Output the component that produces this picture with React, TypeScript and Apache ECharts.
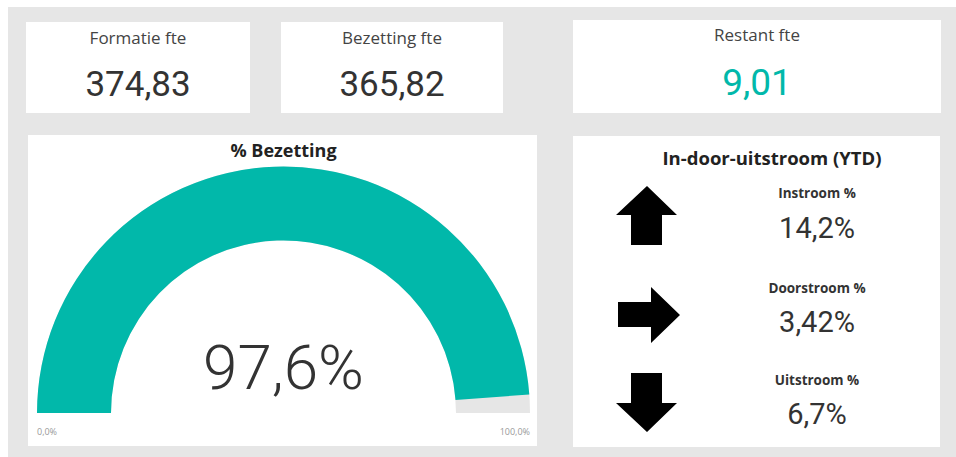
import React, { useEffect, useRef } from "react";
import * as echarts from "echarts";

const kpiTitles = ["Formatie fte", "Bezetting fte", "Restant fte"];
const kpiValues = [374.83, 365.82, 9.01];
const kpiDecimals = [2, 2, 2];

const gaugeTitle = "% Bezetting";
const gaugeValue = 97.6;
const gaugeMin = 0;
const gaugeMax = 100;

const flowTitle = "In-door-uitstroom (YTD)";
const flowLabels = ["Instroom %", "Doorstroom %", "Uitstroom %"];
const flowValues = [14.2, 3.42, 6.7];
const flowDecimals = [1, 2, 1];

const TEAL = "#01B8AA";
const GREY = "#e6e6e6";
const TITLE_FONT = "'Open Sans', 'Noto Sans', sans-serif";
const NUM_FONT = "Roboto, 'Noto Sans', sans-serif";

const nl = (v: number, d: number) => v.toFixed(d).replace(".", ",");

export default function App() {
  const ref = useRef<HTMLDivElement>(null);
  useEffect(() => {
    if (!ref.current) return;
    const chart = echarts.init(ref.current, undefined, { renderer: "svg" });

    const kpiBoxes = [
      { x: 26, y: 22, w: 224, h: 91, ty: 37, vy: 84.5 },
      { x: 281, y: 22, w: 222, h: 91, ty: 37, vy: 84.5 },
      { x: 573, y: 20, w: 368, h: 93, ty: 34, vy: 82.5 },
    ];
    const flowRows = [
      { ly: 193, vy: 227.5 },
      { ly: 288, vy: 322 },
      { ly: 379.5, vy: 414 },
    ];
    const flowCx = 817;

    const graphics: any[] = [
      { type: "rect", z: 0, shape: { x: 8, y: 7, width: 948, height: 450 }, style: { fill: GREY } },
      ...kpiBoxes.map((b) => ({
        type: "rect", z: 0, shape: { x: b.x, y: b.y, width: b.w, height: b.h }, style: { fill: "#fff" },
      })),
      { type: "rect", z: 0, shape: { x: 28, y: 135, width: 509, height: 311 }, style: { fill: "#fff" } },
      { type: "rect", z: 0, shape: { x: 573, y: 136, width: 367, height: 311 }, style: { fill: "#fff" } },
      ...kpiBoxes.flatMap((b, i) => [
        {
          type: "text", z: 10, x: b.x + b.w / 2, y: b.ty,
          style: { text: kpiTitles[i], fill: "#444", font: `400 17px ${TITLE_FONT}`, textAlign: "center", textVerticalAlign: "middle" },
        },
        {
          type: "text", z: 10, x: b.x + b.w / 2, y: b.vy,
          style: { text: nl(kpiValues[i], kpiDecimals[i]), fill: i === 2 ? TEAL : "#333", font: `400 ${i === 2 ? 37 : 35}px ${NUM_FONT}`, textAlign: "center", textVerticalAlign: "middle" },
        },
      ]),
      {
        type: "text", z: 10, x: 283.5, y: 150,
        style: { text: gaugeTitle, fill: "#222", font: `700 18px ${TITLE_FONT}`, textAlign: "center", textVerticalAlign: "middle" },
      },
      {
        type: "text", z: 10, x: 37, y: 431,
        style: { text: nl(gaugeMin, 1) + "%", fill: "#999", font: `400 9px ${TITLE_FONT}`, textAlign: "left", textVerticalAlign: "middle" },
      },
      {
        type: "text", z: 10, x: 530, y: 431,
        style: { text: nl(gaugeMax, 1) + "%", fill: "#999", font: `400 9px ${TITLE_FONT}`, textAlign: "right", textVerticalAlign: "middle" },
      },
      {
        type: "text", z: 10, x: 772, y: 157,
        style: { text: flowTitle, fill: "#222", font: `700 18.5px ${TITLE_FONT}`, textAlign: "center", textVerticalAlign: "middle" },
      },
      ...flowRows.flatMap((r, i) => [
        {
          type: "text", z: 10, x: flowCx, y: r.ly,
          style: { text: flowLabels[i], fill: "#333", font: `700 13.5px ${TITLE_FONT}`, textAlign: "center", textVerticalAlign: "middle" },
        },
        {
          type: "text", z: 10, x: flowCx, y: r.vy,
          style: { text: nl(flowValues[i], flowDecimals[i]) + "%", fill: "#333", font: `400 29px ${NUM_FONT}`, textAlign: "center", textVerticalAlign: "middle" },
        },
      ]),
      {
        type: "polygon", z: 10,
        shape: { points: [[647, 186], [677, 215], [662, 215], [662, 245], [631, 245], [631, 215], [616, 215]] },
        style: { fill: "#000" },
      },
      {
        type: "polygon", z: 10,
        shape: { points: [[618, 302], [651, 302], [651, 287], [680, 315], [651, 343], [651, 327], [618, 327]] },
        style: { fill: "#000" },
      },
      {
        type: "polygon", z: 10,
        shape: { points: [[631, 373], [662, 373], [662, 403], [677, 403], [647, 432], [616, 403], [631, 403]] },
        style: { fill: "#000" },
      },
    ];

    chart.setOption({
      animation: false,
      backgroundColor: "#fff",
      graphic: { elements: graphics },
      series: [
        {
          type: "gauge",
          z: 5,
          center: [283.5, 413],
          radius: 246.5,
          startAngle: 180,
          endAngle: 0,
          min: gaugeMin,
          max: gaugeMax,
          progress: { show: true, width: 74, roundCap: false, itemStyle: { color: TEAL } },
          axisLine: { roundCap: false, lineStyle: { width: 74, color: [[1, GREY]] } },
          pointer: { show: false },
          anchor: { show: false },
          axisTick: { show: false },
          splitLine: { show: false },
          axisLabel: { show: false },
          title: { show: false },
          detail: {
            show: true,
            offsetCenter: [0, -46],
            valueAnimation: false,
            formatter: (v: number) => nl(v, 1) + "%",
            fontFamily: NUM_FONT,
            fontWeight: 300,
            fontSize: 62,
            color: "#333",
          },
          data: [{ value: gaugeValue }],
        },
      ],
    });
    return () => chart.dispose();
  }, []);
  return <div ref={ref} style={{ position: "fixed", left: 0, top: 0, width: 956, height: 457 }} />;
}
